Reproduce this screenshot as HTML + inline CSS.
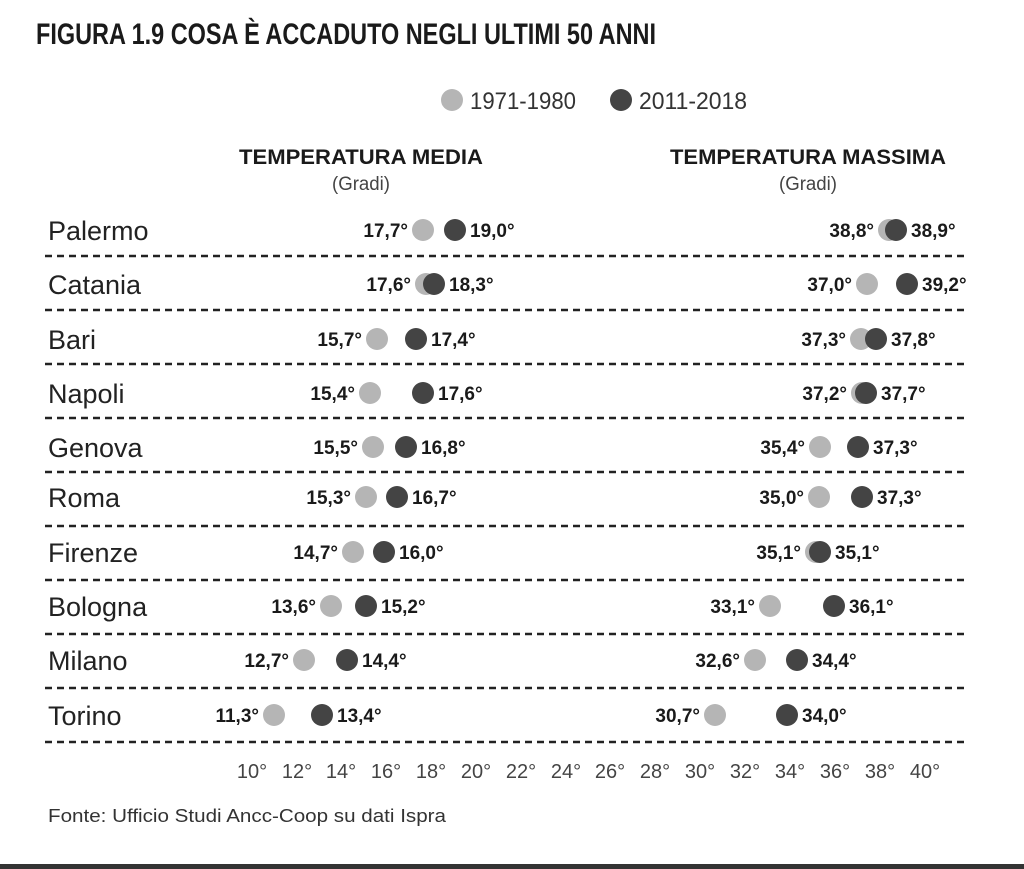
<!DOCTYPE html>
<html><head><meta charset="utf-8"><style>
html,body{margin:0;padding:0;background:#fff;}
svg{display:block;}
text{font-family:"Liberation Sans Narrow","Liberation Sans",sans-serif;}
.c{font-size:27px;fill:#222;}
.v{font-size:19px;font-weight:bold;fill:#1a1a1a;}
.e{text-anchor:end;}
.g{fill:#b5b5b5;}
.k{fill:#444;}
.d{stroke:#222;stroke-width:2.5;stroke-dasharray:7 5;}
</style></head><body>
<svg width="1024" height="869" viewBox="0 0 1024 869" xmlns="http://www.w3.org/2000/svg">
<rect width="1024" height="869" fill="#fff"/>
<text x="36" y="44" font-size="30" font-weight="bold" fill="#1a1a1a" textLength="620" lengthAdjust="spacingAndGlyphs">FIGURA 1.9 COSA È ACCADUTO NEGLI ULTIMI 50 ANNI</text>
<circle cx="452" cy="100" r="11" class="g"/>
<text x="470" y="109" font-size="24" fill="#333" textLength="106" lengthAdjust="spacingAndGlyphs">1971-1980</text>
<circle cx="621" cy="100" r="11" class="k"/>
<text x="639" y="109" font-size="24" fill="#333" textLength="108" lengthAdjust="spacingAndGlyphs">2011-2018</text>
<text x="361" y="164" font-size="21" font-weight="bold" fill="#1a1a1a" text-anchor="middle" textLength="244" lengthAdjust="spacingAndGlyphs">TEMPERATURA MEDIA</text>
<text x="361" y="190" font-size="19" fill="#444" text-anchor="middle" textLength="58" lengthAdjust="spacingAndGlyphs">(Gradi)</text>
<text x="808" y="164" font-size="21" font-weight="bold" fill="#1a1a1a" text-anchor="middle" textLength="276" lengthAdjust="spacingAndGlyphs">TEMPERATURA MASSIMA</text>
<text x="808" y="190" font-size="19" fill="#444" text-anchor="middle" textLength="58" lengthAdjust="spacingAndGlyphs">(Gradi)</text>

<!-- Palermo -->
<text x="48" y="240" class="c">Palermo</text>
<circle cx="423" cy="230" r="11" class="g"/><circle cx="455" cy="230" r="11" class="k"/>
<text x="408" y="237" class="v e">17,7°</text><text x="470" y="237" class="v">19,0°</text>
<circle cx="889" cy="230" r="11" class="g"/><circle cx="896" cy="230" r="11" class="k"/>
<text x="874" y="237" class="v e">38,8°</text><text x="911" y="237" class="v">38,9°</text>
<line x1="45" y1="256" x2="965" y2="256" class="d"/>
<!-- Catania -->
<text x="48" y="294" class="c">Catania</text>
<circle cx="426" cy="284" r="11" class="g"/><circle cx="434" cy="284" r="11" class="k"/>
<text x="411" y="291" class="v e">17,6°</text><text x="449" y="291" class="v">18,3°</text>
<circle cx="867" cy="284" r="11" class="g"/><circle cx="907" cy="284" r="11" class="k"/>
<text x="852" y="291" class="v e">37,0°</text><text x="922" y="291" class="v">39,2°</text>
<line x1="45" y1="310" x2="965" y2="310" class="d"/>
<!-- Bari -->
<text x="48" y="349" class="c">Bari</text>
<circle cx="377" cy="339" r="11" class="g"/><circle cx="416" cy="339" r="11" class="k"/>
<text x="362" y="346" class="v e">15,7°</text><text x="431" y="346" class="v">17,4°</text>
<circle cx="861" cy="339" r="11" class="g"/><circle cx="876" cy="339" r="11" class="k"/>
<text x="846" y="346" class="v e">37,3°</text><text x="891" y="346" class="v">37,8°</text>
<line x1="45" y1="364" x2="965" y2="364" class="d"/>
<!-- Napoli -->
<text x="48" y="403" class="c">Napoli</text>
<circle cx="370" cy="393" r="11" class="g"/><circle cx="423" cy="393" r="11" class="k"/>
<text x="355" y="400" class="v e">15,4°</text><text x="438" y="400" class="v">17,6°</text>
<circle cx="862" cy="393" r="11" class="g"/><circle cx="866" cy="393" r="11" class="k"/>
<text x="847" y="400" class="v e">37,2°</text><text x="881" y="400" class="v">37,7°</text>
<line x1="45" y1="418" x2="965" y2="418" class="d"/>
<!-- Genova -->
<text x="48" y="457" class="c">Genova</text>
<circle cx="373" cy="447" r="11" class="g"/><circle cx="406" cy="447" r="11" class="k"/>
<text x="358" y="454" class="v e">15,5°</text><text x="421" y="454" class="v">16,8°</text>
<circle cx="820" cy="447" r="11" class="g"/><circle cx="858" cy="447" r="11" class="k"/>
<text x="805" y="454" class="v e">35,4°</text><text x="873" y="454" class="v">37,3°</text>
<line x1="45" y1="472" x2="965" y2="472" class="d"/>
<!-- Roma -->
<text x="48" y="507" class="c">Roma</text>
<circle cx="366" cy="497" r="11" class="g"/><circle cx="397" cy="497" r="11" class="k"/>
<text x="351" y="504" class="v e">15,3°</text><text x="412" y="504" class="v">16,7°</text>
<circle cx="819" cy="497" r="11" class="g"/><circle cx="862" cy="497" r="11" class="k"/>
<text x="804" y="504" class="v e">35,0°</text><text x="877" y="504" class="v">37,3°</text>
<line x1="45" y1="526" x2="965" y2="526" class="d"/>
<!-- Firenze -->
<text x="48" y="562" class="c">Firenze</text>
<circle cx="353" cy="552" r="11" class="g"/><circle cx="384" cy="552" r="11" class="k"/>
<text x="338" y="559" class="v e">14,7°</text><text x="399" y="559" class="v">16,0°</text>
<circle cx="816" cy="552" r="11" class="g"/><circle cx="820" cy="552" r="11" class="k"/>
<text x="801" y="559" class="v e">35,1°</text><text x="835" y="559" class="v">35,1°</text>
<line x1="45" y1="580" x2="965" y2="580" class="d"/>
<!-- Bologna -->
<text x="48" y="616" class="c">Bologna</text>
<circle cx="331" cy="606" r="11" class="g"/><circle cx="366" cy="606" r="11" class="k"/>
<text x="316" y="613" class="v e">13,6°</text><text x="381" y="613" class="v">15,2°</text>
<circle cx="770" cy="606" r="11" class="g"/><circle cx="834" cy="606" r="11" class="k"/>
<text x="755" y="613" class="v e">33,1°</text><text x="849" y="613" class="v">36,1°</text>
<line x1="45" y1="634" x2="965" y2="634" class="d"/>
<!-- Milano -->
<text x="48" y="670" class="c">Milano</text>
<circle cx="304" cy="660" r="11" class="g"/><circle cx="347" cy="660" r="11" class="k"/>
<text x="289" y="667" class="v e">12,7°</text><text x="362" y="667" class="v">14,4°</text>
<circle cx="755" cy="660" r="11" class="g"/><circle cx="797" cy="660" r="11" class="k"/>
<text x="740" y="667" class="v e">32,6°</text><text x="812" y="667" class="v">34,4°</text>
<line x1="45" y1="688" x2="965" y2="688" class="d"/>
<!-- Torino -->
<text x="48" y="725" class="c">Torino</text>
<circle cx="274" cy="715" r="11" class="g"/><circle cx="322" cy="715" r="11" class="k"/>
<text x="259" y="722" class="v e">11,3°</text><text x="337" y="722" class="v">13,4°</text>
<circle cx="715" cy="715" r="11" class="g"/><circle cx="787" cy="715" r="11" class="k"/>
<text x="700" y="722" class="v e">30,7°</text><text x="802" y="722" class="v">34,0°</text>
<line x1="45" y1="742" x2="965" y2="742" class="d"/>

<g font-size="20" fill="#444" text-anchor="middle">
<text x="252" y="778">10°</text><text x="297" y="778">12°</text><text x="341" y="778">14°</text><text x="386" y="778">16°</text><text x="431" y="778">18°</text><text x="476" y="778">20°</text><text x="521" y="778">22°</text><text x="566" y="778">24°</text><text x="610" y="778">26°</text><text x="655" y="778">28°</text><text x="700" y="778">30°</text><text x="745" y="778">32°</text><text x="790" y="778">34°</text><text x="835" y="778">36°</text><text x="880" y="778">38°</text><text x="925" y="778">40°</text>
</g>
<text x="48" y="822" font-size="18" fill="#333" textLength="398" lengthAdjust="spacingAndGlyphs">Fonte: Ufficio Studi Ancc-Coop su dati Ispra</text>
<rect x="0" y="864" width="1024" height="5" fill="#333"/>
</svg>
</body></html>
